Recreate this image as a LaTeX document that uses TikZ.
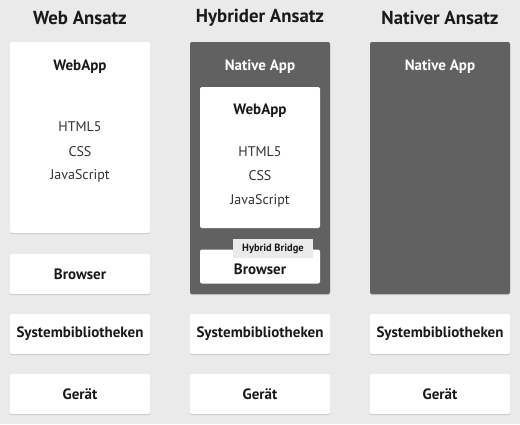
\documentclass[tikz,border=0pt]{standalone}
\usepackage{fontspec}
\setmainfont{PT Sans}
\usetikzlibrary{shadows}
\definecolor{bg}{HTML}{EAEAEA}
\definecolor{dark}{HTML}{616161}
\tikzset{
  card/.style={fill=white, rounded corners=2pt, draw=none, inner sep=0pt,
    drop shadow={shadow xshift=0pt, shadow yshift=-1pt, opacity=0.25, fill=black!60}},
  darkcard/.style={fill=dark, rounded corners=2pt, draw=none, inner sep=0pt,
    drop shadow={shadow xshift=0pt, shadow yshift=-1pt, opacity=0.25, fill=black!60}},
  title/.style={font=\fontsize{18.8}{20}\selectfont\bfseries, text=black!90},
  lbl/.style={font=\fontsize{15}{16}\selectfont\bfseries, text=black!90},
  txt/.style={font=\fontsize{14}{16}\selectfont, text=black!80},
  wlbl/.style={font=\fontsize{15}{16}\selectfont\bfseries, text=white},
  bridge/.style={fill=bg, inner sep=0pt, minimum width=80pt, minimum height=19pt,
    font=\fontsize{10.5}{12}\selectfont\bfseries, text=black!90}
}
\begin{document}
\begin{tikzpicture}[x=1pt,y=-1pt]
\useasboundingbox (0,0) rectangle (520,424);
\fill[bg] (0,0) rectangle (520,424);
% titles
\node[title] (t1) at (80,18) {Web Ansatz};
\node[title] (t2) at (260,18) {Hybrider Ansatz};
\node[title] (t3) at (440,18) {Nativer Ansatz};
% left column
\node[card, minimum width=140pt, minimum height=191pt] (w1) at (80,137.5) {};
\node[lbl] (w1t) at (80,66.5) {WebApp};
\node[txt] (w1a) at (80,126.5) {HTML5};
\node[txt] (w1b) at (80,151.5) {CSS};
\node[txt] (w1c) at (80,175.5) {JavaScript};
\node[card, minimum width=140pt, minimum height=40pt, lbl] (b1) at (80,274) {Browser};
\node[card, minimum width=140pt, minimum height=40pt, lbl] (s1) at (80,334) {Systembibliotheken};
\node[card, minimum width=140pt, minimum height=40pt, lbl] (g1) at (80,394) {Gerät};
% middle column
\node[darkcard, minimum width=140pt, minimum height=252pt] (n2) at (260,168) {};
\node[wlbl] (n2t) at (260,66.5) {Native App};
\node[card, minimum width=120pt, minimum height=141pt] (w2) at (260,157.5) {};
\node[lbl] (w2t) at (260,110.5) {WebApp};
\node[txt] (w2a) at (260,151.5) {HTML5};
\node[txt] (w2b) at (260,175.5) {CSS};
\node[txt] (w2c) at (260,200.5) {JavaScript};
\node[card, minimum width=120pt, minimum height=34pt] (b2) at (260,266.5) {};
\node[lbl] (b2t) at (260,269) {Browser};
\node[bridge] (hb) at (273,248.5) {Hybrid Bridge};
\node[card, minimum width=140pt, minimum height=40pt, lbl] (s2) at (260,334) {Systembibliotheken};
\node[card, minimum width=140pt, minimum height=40pt, lbl] (g2) at (260,394) {Gerät};
% right column
\node[darkcard, minimum width=140pt, minimum height=252pt] (n3) at (440,168) {};
\node[wlbl] (n3t) at (440,66.5) {Native App};
\node[card, minimum width=140pt, minimum height=40pt, lbl] (s3) at (440,334) {Systembibliotheken};
\node[card, minimum width=140pt, minimum height=40pt, lbl] (g3) at (440,394) {Gerät};
\end{tikzpicture}
\end{document}
